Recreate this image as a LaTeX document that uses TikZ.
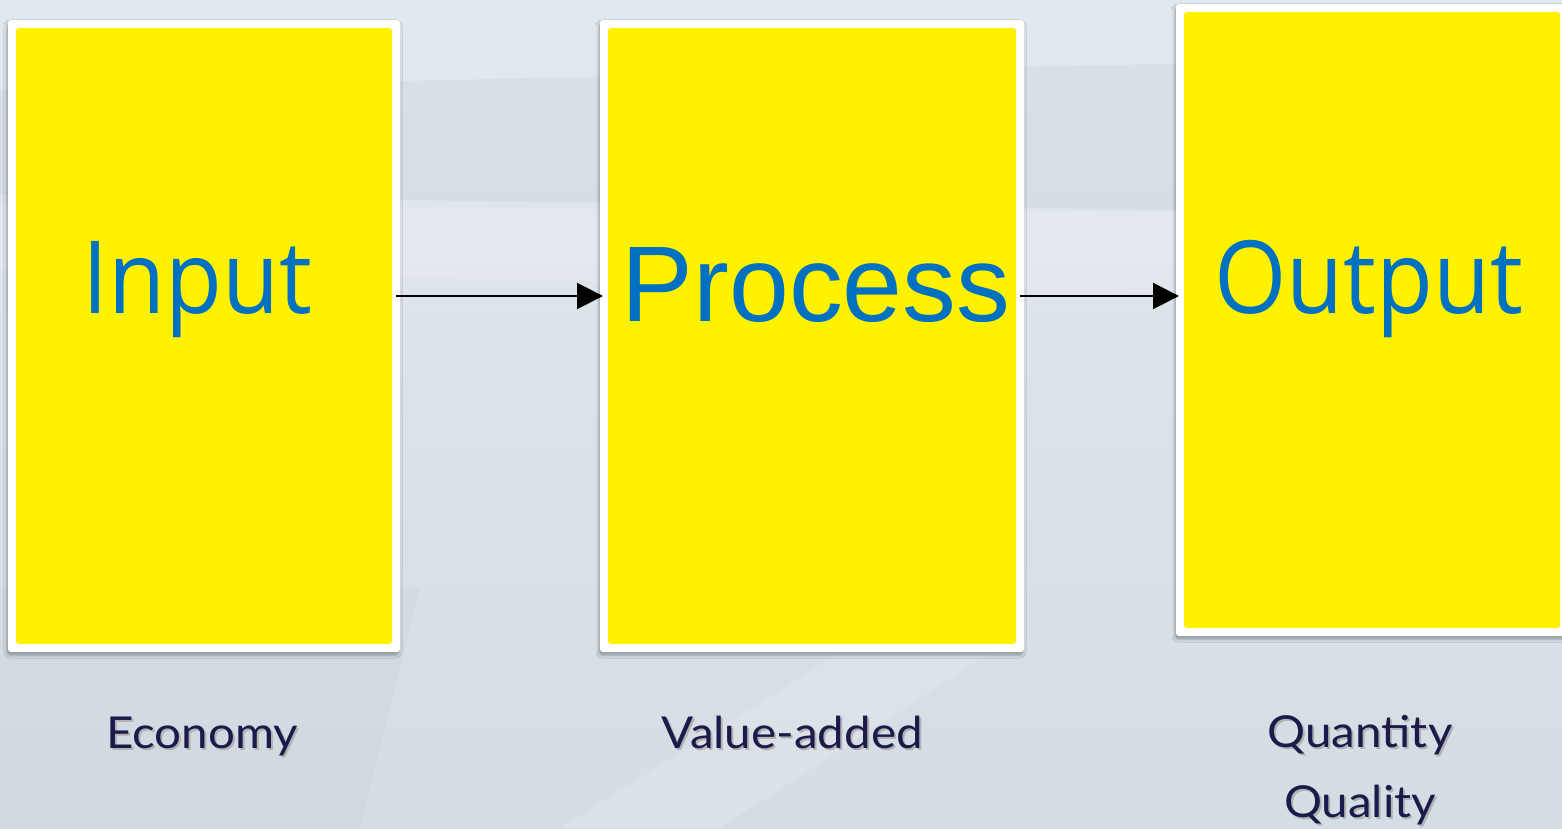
\documentclass[tikz,border=0pt]{standalone}
\usepackage{fontspec}
\setmainfont{Liberation Sans}
\newfontfamily\stagefont[FakeStretch=0.92]{Open Sans}
\newfontfamily\notefont[FakeStretch=1.08]{Lato}
\usepackage{tikz}
\usetikzlibrary{positioning, arrows.meta, shadows.blur}

\definecolor{bgtop}{RGB}{225,232,239}
\definecolor{bgbottom}{RGB}{213,221,228}
\definecolor{stageblue}{RGB}{0,112,192}
\definecolor{notenavy}{RGB}{27,27,75}

% soft grey copy behind a line of text
\newcommand{\shadowed}[1]{\leavevmode\rlap{\kern2pt\raisebox{-2pt}{\color{black!30}#1}}#1}

\tikzset{
    x=1pt, y=1pt, % one unit is one point
    card/.style={fill=white, rounded corners=3pt, inner sep=0pt, outer sep=0pt,
        minimum width=392pt, minimum height=632pt,
        blur shadow={shadow xshift=-1pt, shadow yshift=-3pt, shadow blur radius=3pt, shadow opacity=35},
        path picture={\fill[yellow] ([shift={(8pt,8pt)}]path picture bounding box.south west)
            rectangle ([shift={(-8pt,-8pt)}]path picture bounding box.north east);}}, % white frame, yellow face
    stage/.style={anchor=base, inner sep=0pt, text=stageblue, font=\stagefont\fontsize{101}{101}\selectfont},
    note/.style={anchor=base, inner sep=0pt, text=notenavy, align=center, font=\notefont\fontsize{44}{70}\selectfont},
    flow/.style={line width=2pt, -{Triangle[length=26pt, width=26pt]}}, % the connecting arrows
}

\begin{document}
\begin{tikzpicture}
\useasboundingbox (0,0) rectangle (1562,828);
% faceted backdrop
\shade[top color=bgtop, bottom color=bgbottom] (0,0) rectangle (1562,828);
\fill[black, opacity=0.03] (0,738) -- (1562,773) -- (1562,613) -- (0,633) -- cycle;
\fill[white, opacity=0.18] (0,623) -- (1562,613) -- (1562,528) -- (0,558) -- cycle;
\fill[white, opacity=0.12] (560,0) -- (720,0) -- (1010,188) -- (860,188) -- cycle;
\fill[black, opacity=0.015] (0,0) -- (360,0) -- (420,240) -- (0,240) -- cycle;

\node[card] (box1) at (204,492) {};
\node[card, minimum width=424pt, right=200pt of box1] (box2) {};
\node[card, right=152pt of box2, yshift=16pt] (box3) {};

\node[stage] (t1) at (197,514) {Input};
\node[stage, font=\fontsize{107.5}{107.5}\selectfont] (t2) at (816,506) {Process};
\node[stage] (t3) at (1369,514) {Output};

\draw[flow] ([shift={(-4pt,40pt)}]box1.east) -- ([shift={(3pt,40pt)}]box2.west);
\draw[flow] ([shift={(-4pt,40pt)}]box2.east) -- ([shift={(3pt,24pt)}]box3.west);

\node[note] (n1) at (202,80) {\shadowed{Economy}};
\node[note] (n2) at (792,80) {\shadowed{Value-added}};
\node[note] (n3) at (1360,11) {\shadowed{Quantity}\\\shadowed{Quality}};
\end{tikzpicture}
\end{document}
